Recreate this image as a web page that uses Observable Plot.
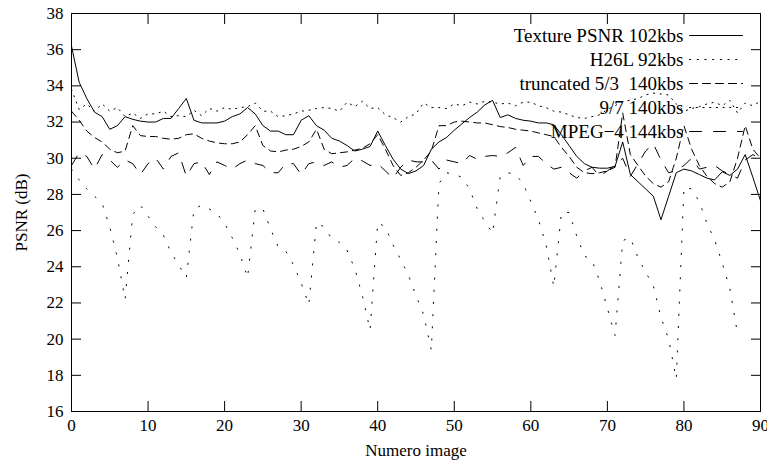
<!DOCTYPE html>
<html><head><meta charset="utf-8">
<script src="https://cdn.jsdelivr.net/npm/d3@7"></script>
<script src="https://cdn.jsdelivr.net/npm/@observablehq/plot@0.6"></script>
<style>
body{margin:0;background:#fff}
#chart svg, #chart svg text { font-family: "Liberation Serif", "Times New Roman", serif !important; }
</style>
</head><body><div id="chart"></div>
<script>
const seriesNames = ["Texture PSNR 102kbs", "H26L 92kbs", "truncated 5/3\u00a0\u00a0140kbs", "9/7 140kbs", "MPEG\u22124 144kbs"];
const texture = [36.2,34.2,33.3,32.55,32.3,31.6,31.8,32.3,32.15,32.05,
32.0,32.0,32.2,32.2,32.75,33.3,32.1,31.95,31.95,31.95,
32.05,32.3,32.45,32.8,32.45,31.8,31.5,31.5,31.3,31.3,
32.1,32.35,31.8,31.55,31.1,30.95,30.7,30.4,30.5,30.65,
31.5,30.7,29.95,29.4,29.15,29.3,29.6,30.5,30.9,31.15,
31.55,31.9,32.25,32.55,32.95,33.2,32.25,32.4,32.2,32.1,
32.05,31.95,31.95,31.85,31.3,30.7,30.1,29.7,29.5,29.45,
29.45,29.55,30.9,29.1,28.7,28.3,27.9,26.6,27.9,29.2,
29.4,29.3,29.1,28.9,28.8,29.25,29.05,29.4,30.2,28.95,
27.65];
const h26l = [29.4,28.8,28.3,27.9,27.5,26.2,24.5,22.2,
26.9,27.4,26.8,26.2,25.75,24.8,24.1,23.4,
27.2,27.4,27.2,26.95,26.4,25.6,24.7,23.4,
27.2,27.2,26.1,25.1,24.85,24.1,23.1,21.9,
26.45,26.2,25.55,25.35,24.9,23.9,22.4,20.5,
26.45,26.2,25.2,24.4,23.55,22.4,21.35,19.4,
28.6,29.2,29.1,28.95,28.3,27.2,26.5,25.85,
29.0,29.2,29.1,28.6,27.6,26.6,25.2,22.9,
27.0,27.0,25.7,24.6,24.35,23.2,21.7,20.2,
25.45,25.6,24.5,23.7,22.95,21.2,20.0,17.8,
28.4,28.3,27.6,26.4,25.5,24.2,22.8,20.3];
const trunc53 = [32.6,32.1,31.5,31.15,30.9,30.5,30.3,30.4,31.8,31.25,
31.2,31.2,31.1,31.05,31.1,31.3,31.35,31.1,30.95,30.85,
30.8,30.8,30.9,31.3,31.8,30.7,30.4,30.35,30.45,30.5,
30.65,30.9,31.6,30.5,30.25,30.3,30.35,30.45,30.55,30.8,
31.3,30.5,29.6,29.05,29.2,29.5,29.9,30.4,31.8,31.8,
32.0,32.05,32.0,31.95,31.95,31.85,31.75,31.7,31.6,31.55,
31.5,31.4,31.3,31.2,30.6,30.1,29.5,29.2,29.15,29.2,
29.3,29.5,32.5,30.2,29.6,29.0,28.6,28.4,28.7,30.0,
31.8,30.5,29.6,29.0,28.6,28.4,28.7,30.0,31.8,30.5,
30.0];
const w97 = [33.8,32.7,33.0,32.6,33.0,32.6,32.8,32.3,32.5,32.2,
32.45,32.45,32.6,32.3,32.35,32.3,32.65,32.35,32.75,32.6,
32.8,32.7,32.8,32.85,33.05,32.6,32.6,32.3,32.35,32.45,
32.6,32.65,32.75,32.8,32.75,32.6,33.1,32.85,33.15,32.75,
32.8,32.4,32.25,32.0,32.3,32.45,33.05,32.8,32.8,32.75,
33.0,32.9,33.1,33.0,33.15,33.1,33.0,33.05,32.9,33.1,
33.1,32.9,32.8,32.6,32.55,32.4,32.25,32.2,32.3,32.4,
32.7,32.9,33.15,33.2,33.3,33.5,33.6,33.55,33.5,33.0,
32.6,32.75,32.85,33.0,33.1,32.9,33.2,32.5,33.05,32.9,
33.15];
const mpeg4 = [29.6,30.3,30.1,29.4,30.2,29.9,29.5,29.9,29.7,29.1,
29.7,30.0,29.4,30.1,30.3,29.0,29.7,29.8,29.1,29.8,
29.6,29.4,29.7,29.9,29.7,29.6,29.2,29.2,29.7,29.7,
29.1,29.7,29.8,29.6,29.8,29.5,29.6,30.0,29.85,29.6,
29.7,29.3,28.9,29.5,29.9,29.8,29.8,29.9,29.4,29.9,
29.8,29.7,30.15,29.95,30.1,30.15,30.1,30.3,30.6,29.6,
30.1,30.1,29.7,29.4,29.5,29.2,28.9,29.3,29.5,29.0,
29.3,29.6,30.0,29.0,29.7,30.4,30.8,29.9,29.2,29.3,
29.6,30.0,29.4,29.5,29.6,29.3,29.1,28.9,29.9,30.2,
30.0];
const xTicks = [0,10,20,30,40,50,60,70,80,90];
const yTicks = [16,18,20,22,24,26,28,30,32,34,36,38];

const allSeries = [texture, h26l, trunc53, w97, mpeg4];
const dashes = [null, "1.2,11", "7,5", "1.2,5.5", "11,11"];
const legendDash = [null, "1.2,6.5", "8,5", "1.2,5.5", "12,12"];

const lineShape = {draw(ctx, l) { ctx.moveTo(0, 0); ctx.lineTo(0, -l); }};
const font = "'Liberation Serif', 'Times New Roman', serif";

const marks = [];
allSeries.forEach((vals, s) => {
  const rows = vals.map((v, i) => ({frame: i, psnr: v}));
  marks.push(Plot.line(rows, {x: "frame", y: "psnr", stroke: "black", strokeWidth: 1, strokeDasharray: dashes[s]}));
});
seriesNames.forEach((name, s) => {
  marks.push(Plot.text([name], {frameAnchor: "top-right", text: d => d, dx: -77, dy: 22 + s * 24, textAnchor: "end", lineAnchor: "middle", fontSize: 19, fontFamily: font, fill: "black"}));
  marks.push(Plot.vector([name], {frameAnchor: "top-right", dx: -71, dy: 22 + s * 24, length: 53, rotate: 90, anchor: "start", shape: lineShape, stroke: "black", strokeWidth: 1, strokeDasharray: legendDash[s]}));
});
marks.push(
  Plot.axisX(xTicks, {anchor: "bottom", tickSize: 0, tickPadding: 7, fontSize: 17, fontFamily: font, label: "Numero image", labelAnchor: "center", labelArrow: "none", labelOffset: 44}),
  Plot.axisX(xTicks, {anchor: "bottom", tickSize: -10, tickFormat: () => "", label: null}),
  Plot.axisX(xTicks, {anchor: "top", tickSize: -10, tickFormat: () => "", label: null}),
  Plot.axisY(yTicks, {anchor: "left", tickSize: 0, tickPadding: 8, fontSize: 17, fontFamily: font, label: "PSNR (dB)", labelAnchor: "center", labelArrow: "none", labelOffset: 57}),
  Plot.axisY(yTicks, {anchor: "left", tickSize: -10, tickFormat: () => "", label: null}),
  Plot.axisY(yTicks, {anchor: "right", tickSize: -10, tickFormat: () => "", label: null}),
  Plot.frame({stroke: "black", strokeWidth: 1})
);

const chart = Plot.plot({
  width: 767, height: 464,
  marginLeft: 71, marginRight: 7, marginTop: 13, marginBottom: 53,
  x: {domain: [0, 90]},
  y: {domain: [16, 38]},
  style: {fontFamily: font, fontSize: "16px", background: "white", color: "black"},
  marks
});
document.getElementById("chart").appendChild(chart);
</script>
</body></html>
